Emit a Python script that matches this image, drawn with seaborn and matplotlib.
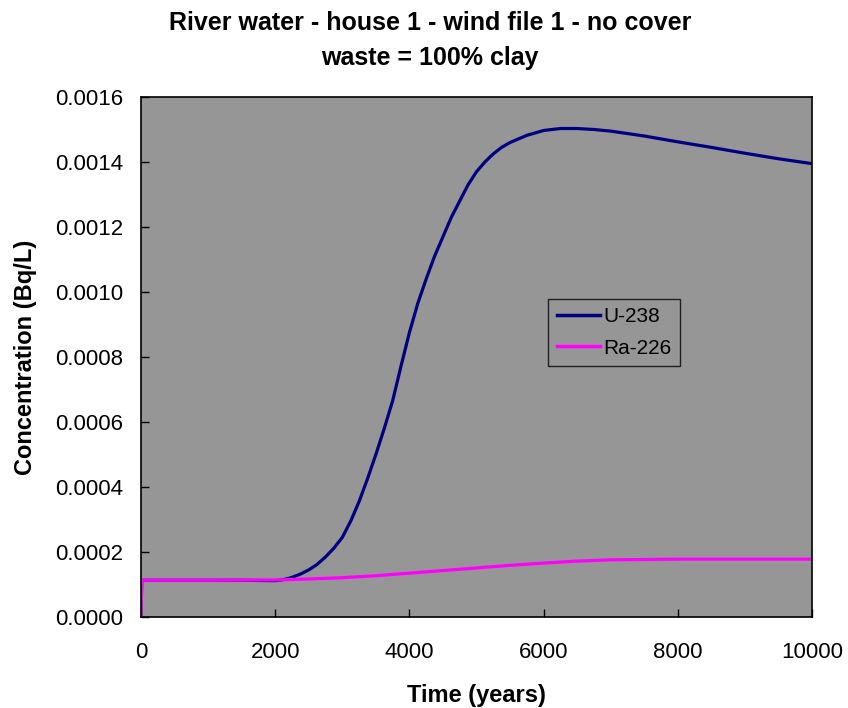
import matplotlib
matplotlib.use("Agg")
import matplotlib.pyplot as plt
import seaborn as sns
import pandas as pd
from matplotlib.ticker import FormatStrFormatter, FixedLocator

# ---- data ----
u238_time = [0, 10, 500, 1000, 1500, 2000, 2125, 2250, 2375, 2500, 2625, 2750,
             2875, 3000, 3125, 3250, 3375, 3500, 3625, 3750, 3875, 4000, 4125,
             4250, 4375, 4500, 4625, 4750, 4875, 5000, 5125, 5250, 5375, 5500,
             5750, 6000, 6250, 6500, 6750, 7000, 7500, 8000, 8500, 9000, 9500,
             10000]
u238_conc = [0.0, 0.000113, 0.000113, 0.000113, 0.000113, 0.000112, 0.000115,
             0.000122, 0.000132, 0.000145, 0.000162, 0.000185, 0.000212,
             0.000245, 0.000295, 0.000355, 0.000425, 0.000500, 0.000580,
             0.000665, 0.000772, 0.000875, 0.000965, 0.001040, 0.001110,
             0.001170, 0.001230, 0.001280, 0.001330, 0.001370, 0.001400,
             0.001425, 0.001445, 0.001460, 0.001482, 0.001497, 0.001503,
             0.001503, 0.001500, 0.001495, 0.001480, 0.001462, 0.001445,
             0.001427, 0.001410, 0.001395]

ra226_time = [0, 10, 1000, 2000, 2500, 3000, 3500, 4000, 4500, 5000, 5500,
              6000, 6500, 7000, 8000, 9000, 10000]
ra226_conc = [0.0, 0.000113, 0.000113, 0.000114, 0.000117, 0.000121, 0.000127,
              0.000135, 0.000143, 0.000151, 0.000159, 0.000166, 0.000172,
              0.000176, 0.000178, 0.000178, 0.000178]

series_names = ["U-238", "Ra-226"]
series_colors = ["#000080", "#FF00FF"]

x_ticks = [0, 2000, 4000, 6000, 8000, 10000]
y_ticks = [0.0, 0.0002, 0.0004, 0.0006, 0.0008, 0.0010, 0.0012, 0.0014, 0.0016]

title_line1 = "River water - house 1 - wind file 1 - no cover"
title_line2 = "waste = 100% clay"
x_label = "Time (years)"
y_label = "Concentration (Bq/L)"

# ---- build table ----
df = pd.concat([
    pd.DataFrame({"Time": u238_time, "Conc": u238_conc, "Nuclide": series_names[0]}),
    pd.DataFrame({"Time": ra226_time, "Conc": ra226_conc, "Nuclide": series_names[1]}),
], ignore_index=True)

plt.rcParams["font.family"] = ["Liberation Sans", "DejaVu Sans"]

fig = plt.figure(figsize=(8.48, 7.08), dpi=100)
fig.patch.set_facecolor("white")
ax = fig.add_axes([0.1663, 0.1285, 0.7912, 0.7345])
ax.set_facecolor("#969696")

sns.lineplot(data=df, x="Time", y="Conc", hue="Nuclide", hue_order=series_names,
             palette=dict(zip(series_names, series_colors)), estimator=None,
             sort=False, linewidth=2.3, ax=ax)

ax.set_xlim(0, 10000)
ax.set_ylim(0, 0.0016)
ax.xaxis.set_major_locator(FixedLocator(x_ticks))
ax.yaxis.set_major_locator(FixedLocator(y_ticks))
ax.yaxis.set_major_formatter(FormatStrFormatter("%.4f"))
ax.xaxis.set_major_formatter(FormatStrFormatter("%d"))

ax.tick_params(axis="both", direction="in", length=6, width=1, color="black",
               labelsize=16, top=False, right=False)
ax.tick_params(axis="x", pad=18)
ax.tick_params(axis="y", pad=13)

for sp in ax.spines.values():
    sp.set_color("black")
    sp.set_linewidth(1.2)

ax.set_xlabel(x_label, fontsize=17, fontweight="bold", labelpad=15)
ax.set_ylabel(y_label, fontsize=17, fontweight="bold", labelpad=13)

fig.text(0.507, 1 - 30 / 708, title_line1, ha="center", va="baseline",
         fontsize=18, fontweight="bold")
fig.text(0.507, 1 - 65 / 708, title_line2, ha="center", va="baseline",
         fontsize=18, fontweight="bold")

leg = ax.legend(loc="lower left", bbox_to_anchor=(0.607, 0.483), borderaxespad=0,
                fontsize=15, frameon=True, fancybox=False, framealpha=1,
                facecolor="#969696", edgecolor="#202020", handlelength=2.1,
                handletextpad=0.15, borderpad=0.4, labelspacing=0.6, title=None)
leg.get_frame().set_linewidth(1.0)
for line in leg.get_lines():
    line.set_linewidth(2.5)

fig.savefig("out.png", dpi=100)
